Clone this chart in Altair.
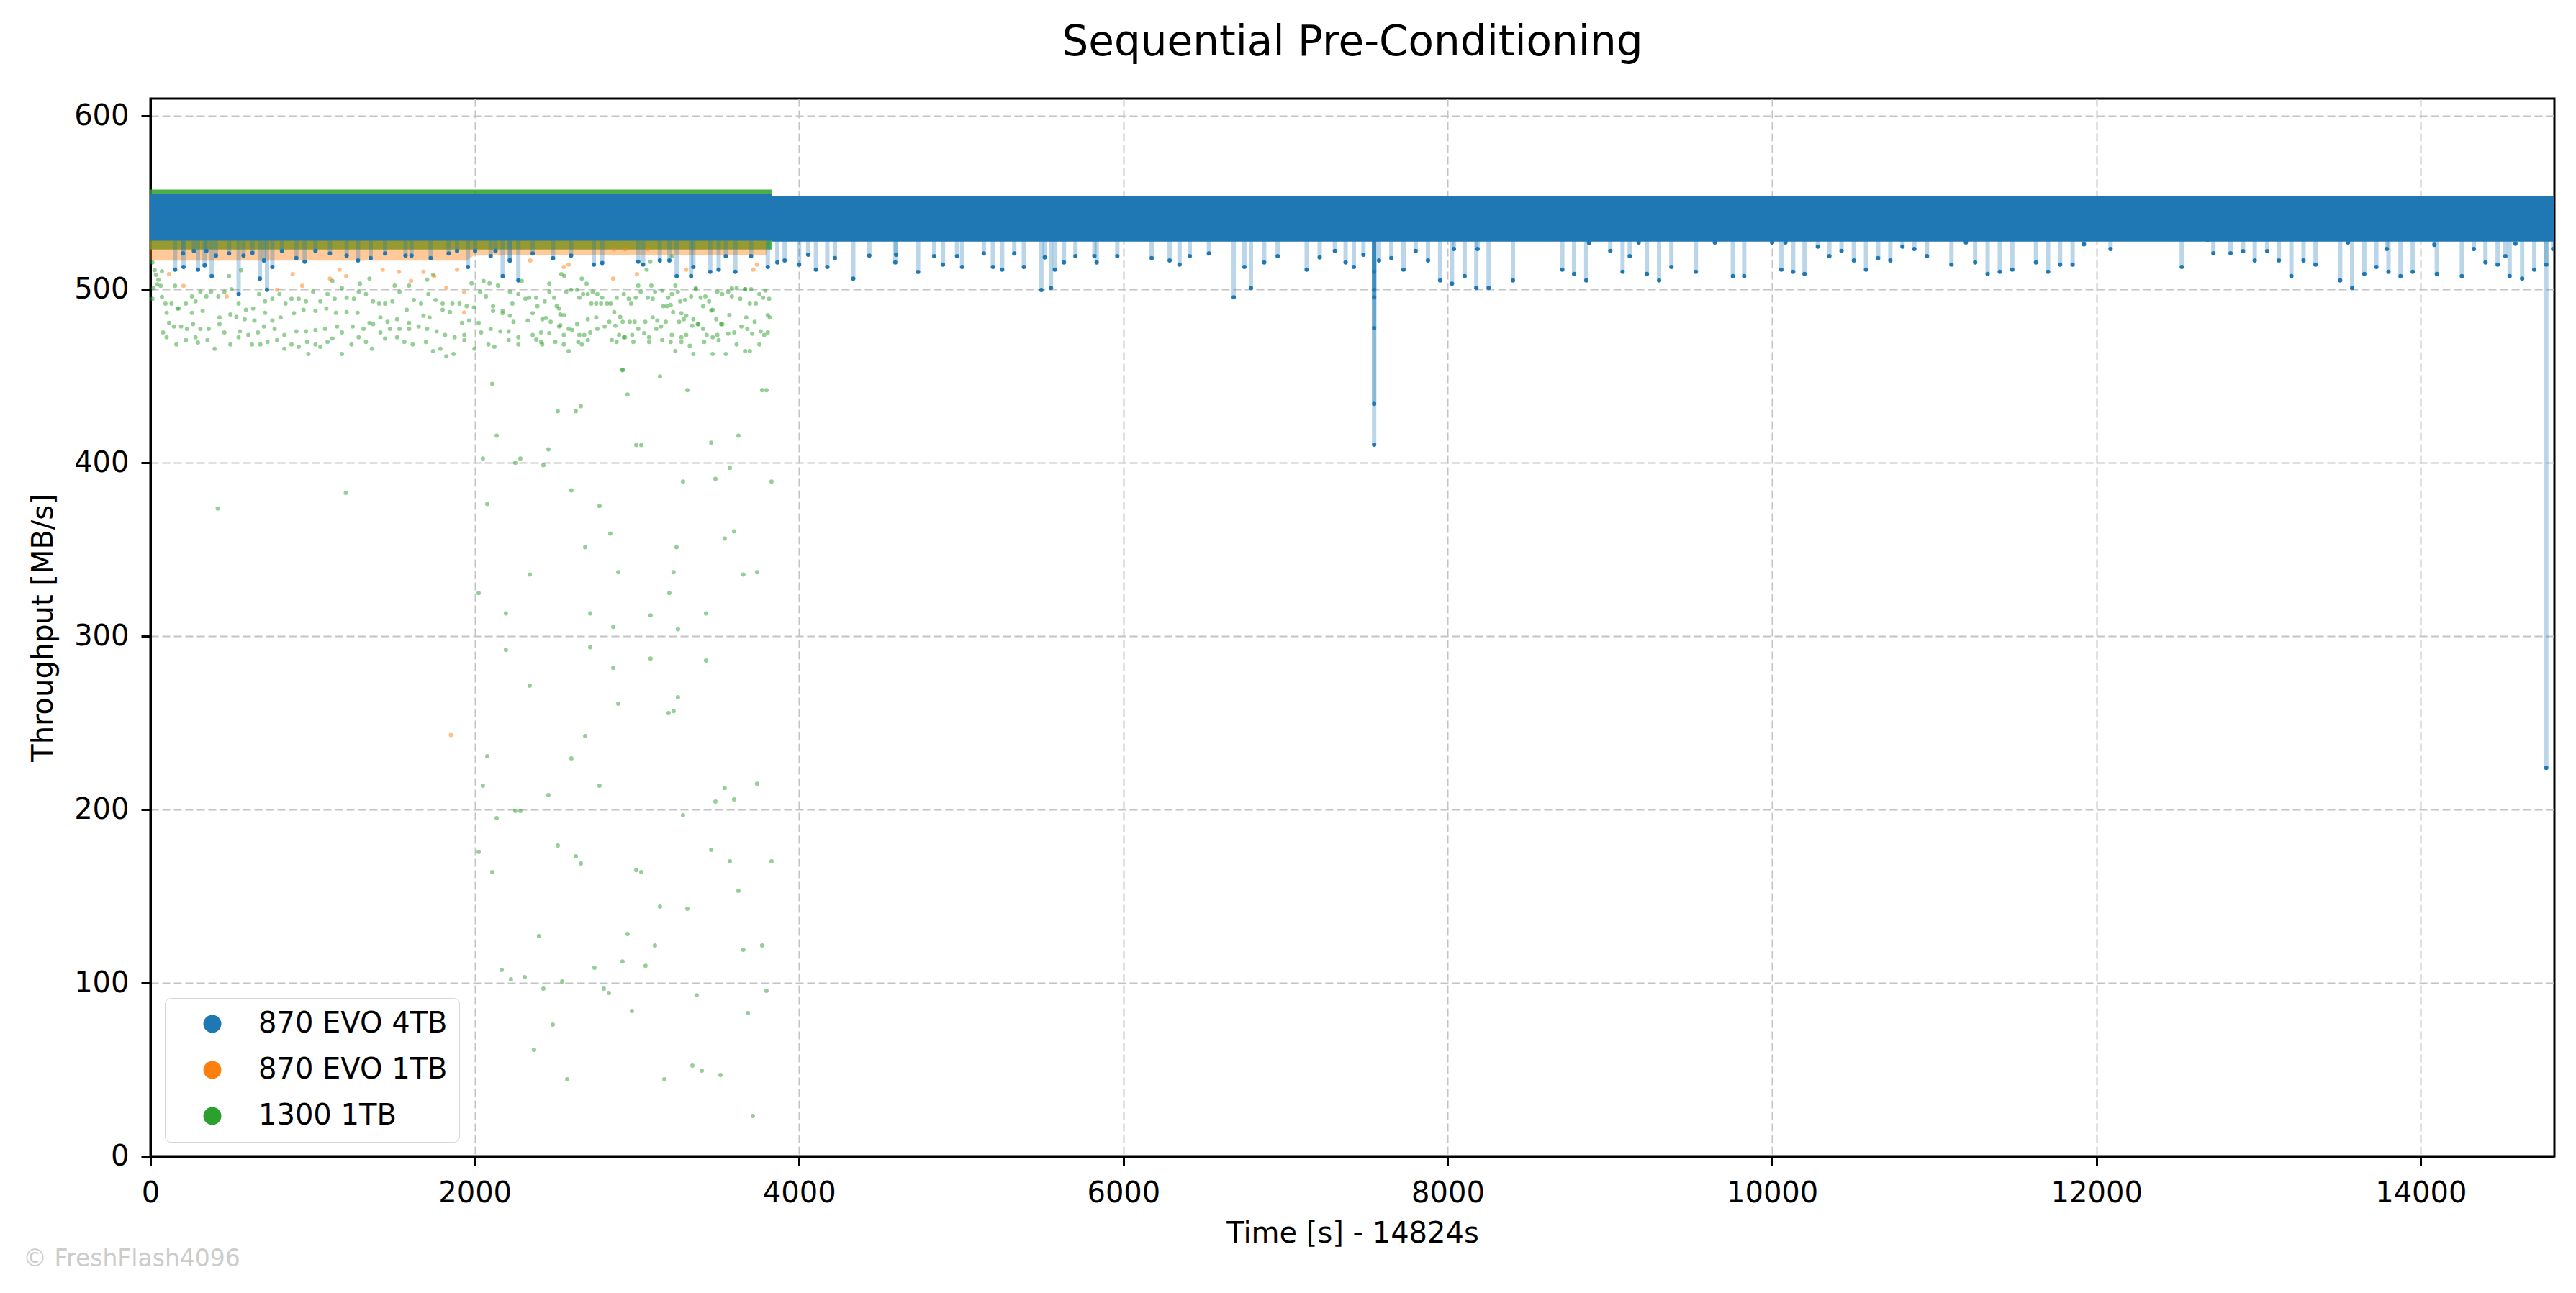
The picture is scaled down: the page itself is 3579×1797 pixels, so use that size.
import altair as alt
import pandas as pd

TITLE = "Sequential Pre-Conditioning"
X_TITLE = "Time [s] - 14824s"
Y_TITLE = "Throughput [MB/s]"
SERIES = ["870 EVO 4TB", "870 EVO 1TB", "1300 1TB"]
COLORS = ["#1f77b4", "#ff7f0e", "#2ca02c"]
X_TICKS = [0, 2000, 4000, 6000, 8000, 10000, 12000, 14000]
Y_TICKS = [0, 100, 200, 300, 400, 500, 600]
X_MAX = 14824
Y_MAX = 610
WATERMARK = "© FreshFlash4096"
FONT = "DejaVu Sans"

# dense bands of overlapping samples: (time, low, high)
blue_band = [(0, 528.0, 555.0), (3830, 528.0, 555.0), (3831, 527.5, 554.0), (14824, 527.5, 554.0)]
orange_band = [(0, 516.5, 545.0), (1950, 516.5, 545.0), (2000, 520.0, 545.0), (3800, 520.0, 545.0)]
green_band = [(0, 523.0, 557.5), (3830, 523.0, 557.5)]
BAND_BOTTOM = 528.0

# 1300 1TB : scattered samples below the band
green_low = [
    (2911, 453.4), (3142, 449.7), (2108, 445.5), (2942, 439.3), (3311, 441.8), (3772, 441.8), (3799, 441.8),
    (2512, 429.7), (2623, 429.7), (2654, 432.6), (2135, 415.6), (2996, 410.2), (3027, 410.2), (3458, 411.5),
    (3626, 415.6), (2454, 407.7), (2050, 402.4), (2281, 402.4), (2250, 399.9), (2423, 398.6), (3573, 397.0),
    (3284, 389.1), (3484, 390.7), (3830, 389.1), (2596, 384.1), (2077, 376.2), (2769, 375.0), (2836, 359.2),
    (2681, 351.3), (3244, 351.3), (3541, 356.3), (3599, 360.4), (2339, 335.5), (2885, 336.8), (3226, 336.8),
    (3656, 335.5), (3741, 336.8), (2024, 324.8), (3200, 324.8), (2192, 313.1), (2712, 313.1), (3084, 311.9),
    (3426, 313.1), (2854, 305.3), (3253, 304.0), (2192, 292.0), (2712, 293.6),
    (3084, 287.1), (3426, 285.9), (2854, 281.7), (2339, 271.4), (3253, 264.7), (2885, 261.0), (3195, 255.6),
    (3226, 256.8), (2681, 242.3), (2077, 230.7), (2596, 229.5), (2050, 213.7), (2769, 213.7), (2454, 208.3),
    (3741, 214.9), (3541, 212.4), (3484, 204.6), (3599, 205.8), (2250, 199.2), (2281, 199.2), (2135, 195.0),
    (3284, 196.7), (2024, 175.5), (2512, 179.3), (2623, 173.0), (2654, 168.9), (2108, 163.9), (2996, 165.1),
    (3027, 163.9), (3458, 176.8), (3573, 170.1), (3830, 170.1), (3626, 153.1), (3142, 144.0), (3311, 142.7),
    (2396, 127.0), (2942, 128.2), (3111, 121.6), (3656, 119.1), (3772, 121.6), (2166, 107.5), (2738, 108.7),
    (2911, 112.4), (3053, 109.9),
    (2223, 102.1), (2308, 103.3), (2539, 100.8), (2423, 96.7), (2796, 96.7), (2827, 94.2), (3368, 92.9),
    (3799, 95.4), (2969, 83.8), (3684, 82.6), (2481, 75.9), (2365, 61.4), (2570, 44.4), (3169, 44.4),
    (3342, 52.3), (3400, 49.4), (3515, 46.9), (3715, 23.2),
    (415, 373.6), (1205, 382.6),
]

# 1300 1TB : samples between 500 and 520
green_upper = [
    (12, 515.5), (26, 511.0), (34, 508.3), (49, 505.5), (41, 502.8), (63, 502.0), (19, 500.7), (71, 510.4),
    (152, 502.0), (485, 507.6), (559, 511.0), (1122, 504.8), (1292, 503.2), (1351, 506.2), (1506, 502.1),
    (1595, 502.1), (1706, 505.5), (1743, 508.3), (1980, 503.5), (2054, 504.8), (2091, 503.5), (2143, 502.1),
    (2217, 498.6), (2290, 504.8), (2460, 503.2), (2534, 508.7), (2552, 507.6), (2660, 506.2), (2690, 503.2),
    (3008, 502.1), (3089, 502.1), (3237, 502.1), (3363, 500.7), (3585, 500.7), (3667, 500.0), (3060, 511.3),
    (3082, 515.9), (3215, 519.1),
]

# 1300 1TB : cluster between 460 and 500
green_cluster = [
    (12, 494.5), (71, 495.6), (93, 491.7), (130, 491.7), (174, 488.9), (219, 491.7), (256, 495.9), (278, 493.1),
    (308, 498.6), (345, 495.9), (374, 498.6), (419, 495.9), (456, 498.6), (500, 500.0), (544, 491.7), (589, 488.2),
    (633, 488.9), (670, 497.2), (707, 493.1), (752, 494.5), (796, 497.2), (833, 491.7), (870, 494.5), (914, 494.5),
    (959, 493.1), (1003, 498.6), (1048, 493.1), (1092, 497.2), (1136, 494.5), (1181, 500.7), (1210, 495.2),
    (1255, 494.5), (1284, 498.6), (1329, 497.2), (1373, 493.1), (1410, 491.7), (1447, 491.7), (1492, 493.1),
    (1536, 498.6), (1580, 488.2), (1625, 493.8), (1669, 491.7), (1714, 497.2), (1758, 493.8), (1802, 491.7),
    (1862, 491.7), (1906, 491.7), (1950, 490.3), (1995, 489.6), (2032, 498.6), (2069, 495.9), (2113, 490.3),
    (2172, 487.6), (2232, 491.7), (2269, 497.2),
    (100, 486.4), (167, 488.9), (256, 486.4), (322, 487.6), (426, 483.7), (493, 485.5), (530, 484.1), (581, 482.7),
    (641, 482.0), (707, 486.4), (752, 482.0), (803, 483.7), (885, 486.2), (944, 488.2), (1018, 487.6),
    (1085, 488.9), (1144, 486.4), (1210, 486.9), (1277, 486.4), (1351, 480.6), (1418, 483.7), (1462, 481.3),
    (1521, 482.7), (1595, 480.6), (1684, 484.8), (1721, 483.7), (1802, 488.2), (1847, 486.9), (1921, 480.6),
    (1965, 482.0), (2024, 480.6), (2113, 487.6), (2172, 486.2), (2217, 484.8), (2239, 481.3),
    (78, 475.1), (115, 480.6), (145, 478.6), (189, 478.6), (226, 477.2), (263, 479.9), (308, 477.2), (359, 477.2),
    (426, 479.9), (456, 475.1), (552, 475.8), (604, 473.7), (663, 475.1), (700, 478.6), (766, 477.2), (826, 473.7),
    (900, 475.8), (959, 475.8), (1018, 476.5), (1077, 477.2), (1151, 478.6), (1181, 475.1), (1247, 478.6),
    (1314, 477.2), (1373, 479.9), (1418, 475.1), (1477, 477.2), (1536, 477.2), (1595, 477.2), (1654, 478.6),
    (1706, 477.2), (1765, 475.8), (1817, 473.7), (1876, 472.3), (1936, 473.7), (2039, 475.1), (2098, 477.2),
    (2158, 475.8), (2209, 475.8), (2269, 472.3),
    (100, 472.3), (160, 468.2), (219, 470.7), (278, 472.3), (293, 469.3), (352, 470.7), (396, 465.7), (493, 468.2),
    (544, 472.3), (626, 468.2), (678, 468.2), (722, 469.6), (781, 470.7), (826, 465.7), (870, 468.2), (914, 466.8),
    (966, 469.6), (974, 462.7), (1018, 468.2), (1048, 466.8), (1092, 469.6), (1122, 471.6), (1181, 462.7),
    (1240, 468.2), (1284, 472.3), (1329, 469.6), (1366, 465.7), (1447, 471.6), (1521, 472.3), (1566, 469.6),
    (1617, 468.2), (1699, 469.6), (1743, 464.3), (1788, 465.7), (1825, 461.3), (1869, 462.7), (1936, 470.7),
    (1998, 465.7), (2084, 468.2), (2121, 466.8), (2209, 470.7), (2269, 468.2),
    (2312, 494.5), (2335, 495.2), (2379, 495.2), (2386, 490.3), (2431, 493.1), (2460, 498.6), (2490, 495.2),
    (2505, 490.3), (2520, 488.9), (2564, 498.6), (2594, 499.7), (2631, 499.7), (2645, 495.2), (2668, 497.2),
    (2697, 497.2), (2727, 498.6), (2756, 497.2), (2786, 495.2), (2719, 491.7), (2749, 491.7), (2779, 491.7),
    (2816, 491.7), (2838, 491.7), (2875, 495.2), (2919, 497.2), (2949, 494.5), (2964, 491.7), (2993, 495.2),
    (3023, 498.6), (3067, 495.2), (3097, 494.5), (3112, 498.6), (3156, 499.3), (3193, 495.2), (3215, 497.2),
    (3163, 490.3), (3186, 490.3), (3208, 491.0), (3252, 498.6), (3267, 493.1), (3297, 493.8), (3334, 495.9),
    (3363, 500.0), (3393, 495.2), (3422, 495.9), (3408, 490.3), (3445, 493.1), (3467, 488.2), (3496, 498.6),
    (3526, 497.2), (3563, 498.6), (3585, 495.9), (3615, 500.7), (3637, 494.5), (3667, 500.0), (3704, 500.0),
    (3696, 491.7), (3733, 491.7), (3755, 497.2), (3778, 495.2), (3792, 499.3), (3815, 494.5),
    (2327, 482.0), (2357, 486.2), (2416, 482.7), (2438, 483.4), (2468, 481.3), (2527, 485.5), (2549, 485.1),
    (2527, 479.3), (2631, 479.9), (2697, 482.7), (2749, 483.7), (2830, 481.3), (2860, 486.9), (2897, 484.1),
    (2912, 481.3), (2956, 481.3), (2986, 481.3), (3052, 481.3), (3097, 483.7), (3126, 482.0), (3178, 481.3),
    (3223, 486.9), (3260, 481.3), (3274, 486.2), (3289, 482.7), (3304, 484.8), (3348, 482.7), (3375, 479.9),
    (3459, 487.8), (3489, 482.7), (3519, 479.9), (3570, 485.1), (3674, 483.7), (3726, 481.3), (3807, 485.1),
    (3819, 483.7),
    (2357, 473.7), (2409, 475.1), (2460, 474.7), (2520, 478.6), (2549, 473.7), (2579, 477.2), (2601, 476.5),
    (2645, 473.7), (2675, 473.7), (2712, 475.1), (2756, 477.2), (2801, 478.6), (2867, 479.0), (2890, 473.7),
    (2919, 472.3), (2971, 473.7), (3008, 477.2), (3045, 474.7), (3075, 472.3), (3119, 477.2), (3149, 478.6),
    (3215, 473.7), (3274, 472.3), (3304, 473.7), (3341, 479.0), (3378, 479.9), (3408, 477.2), (3430, 473.7),
    (3467, 472.3), (3496, 473.7), (3526, 479.9), (3563, 474.4), (3600, 475.1), (3644, 478.6), (3681, 477.2),
    (3711, 474.4), (3763, 475.8), (3785, 473.7), (3807, 475.1),
    (2379, 471.0), (2409, 469.6), (2416, 468.2), (2497, 469.6), (2549, 468.2), (2579, 464.3), (2638, 469.6),
    (2660, 468.2), (2697, 470.7), (2845, 470.7), (2875, 469.6), (2927, 472.3), (2978, 469.6), (3075, 469.6),
    (3156, 470.7), (3208, 469.6), (3237, 464.3), (3274, 469.6), (3326, 467.5), (3348, 462.7), (3415, 469.6),
    (3467, 462.7), (3504, 470.7), (3548, 462.7), (3615, 468.2), (3667, 464.3), (3696, 464.3), (3755, 468.2),
    (2912, 453.7),
]

# 870 EVO 1TB : samples below the band
orange_pts = [
    (1853, 243.0), (204, 502.0), (115, 508.7), (877, 508.7), (1107, 506.2), (1207, 507.6), (936, 502.0),
    (1533, 510.1), (1607, 504.8), (1684, 510.1), (1750, 507.6), (1825, 501.0), (1891, 511.3), (1935, 486.6),
    (1432, 511.3), (1166, 511.3), (781, 499.7), (470, 495.9), (1935, 498.3), (2342, 516.6), (2549, 512.9),
    (2579, 514.2), (2853, 506.2), (3000, 508.7), (3304, 511.3), (3718, 511.3), (3740, 514.2), (2927, 523.2),
    (2860, 523.2), (3067, 523.2),
]

# 870 EVO 4TB : dips below the band
blue_dips = [
    (152, 511.3), (204, 512.9), (293, 511.3), (334, 513.8), (378, 507.6), (544, 497.2), (675, 506.2),
    (719, 499.7), (752, 512.9), (951, 515.9), (1958, 512.9), (2172, 507.6), (2217, 516.6), (2269, 505.1),
    (3245, 507.6), (3334, 507.6), (3452, 510.1), (3504, 511.3), (3607, 510.1), (3807, 512.9), (3866, 515.5),
    (3911, 516.6),
    (4000, 514.2), (4104, 511.3), (4174, 512.9), (4334, 506.2), (4593, 515.5), (4734, 510.0), (4887, 514.2),
    (5005, 512.9), (5195, 512.9), (5252, 511.3), (5386, 512.9), (5494, 499.6), (5553, 500.8), (5577, 511.3),
    (5633, 515.5), (5835, 515.5), (6285, 516.6), (6346, 514.2), (6680, 495.4), (6746, 512.9), (6786, 500.8),
    (6868, 515.5), (7130, 511.3), (7370, 515.5), (7421, 512.9),
    (7546, 510.1), (7546, 499.7), (7546, 495.4), (7546, 477.6), (7546, 434.0), (7546, 410.4),
    (7576, 516.6), (7652, 518.0), (7727, 511.3), (7802, 522.1), (7878, 516.6), (7953, 505.1), (8026, 503.3),
    (8038, 523.3), (8104, 507.6), (8176, 500.8), (8184, 523.3), (8252, 500.8), (8402, 505.1), (8706, 511.3),
    (8779, 508.9), (8854, 505.1), (9002, 522.1), (9078, 510.1), (9122, 519.1), (9228, 508.9), (9303, 505.1),
    (9379, 512.9), (9530, 510.1), (9758, 507.6), (9828, 507.6), (10057, 511.3), (10130, 510.1), (10200, 508.9),
    (10353, 519.1), (10428, 522.1), (10504, 516.6), (10579, 511.3), (10654, 518.0), (10729, 516.6),
    (10804, 524.6), (10877, 523.3), (10955, 519.1), (11106, 514.2),
    (11252, 515.5), (11329, 508.9), (11404, 510.1), (11481, 511.3), (11627, 515.5), (11702, 510.1),
    (11776, 514.2), (11853, 514.2), (11923, 526.0), (12087, 523.3), (12526, 512.9), (12721, 520.8),
    (12827, 520.8), (12904, 522.0), (12976, 516.6), (13053, 522.0), (13125, 516.6), (13202, 507.6),
    (13277, 516.6), (13351, 514.2), (13503, 505.1), (13577, 500.8), (13652, 508.9), (13726, 512.9),
    (13791, 523.3), (13801, 510.1), (13875, 507.6), (13950, 510.1), (14099, 508.9), (14253, 507.6),
    (14327, 523.3), (14399, 515.5), (14474, 514.2), (14522, 519.1), (14548, 507.6), (14625, 506.2),
    (14700, 511.3), (14774, 224.0), (14774, 514.2), (14816, 523.3),
]

# 870 EVO 4TB : loose samples just under the band
blue_fringe = [
    (201, 520.7), (268, 522.1), (345, 522.1), (404, 519.4), (485, 520.7), (574, 519.4), (629, 521.0),
    (700, 516.6), (811, 522.1), (900, 518.0), (1018, 522.1), (1107, 520.7), (1210, 519.4), (1280, 516.6),
    (1358, 518.0), (1447, 520.7), (1573, 519.4), (1610, 519.4), (1728, 518.0), (1839, 520.7), (1891, 522.1),
    (2002, 522.1), (2098, 519.1), (2128, 522.1), (2216, 516.6), (2357, 520.7), (2483, 518.0), (2594, 519.4),
    (2734, 514.2), (2786, 515.2), (3008, 515.9), (3038, 514.2), (3141, 516.6), (3200, 516.6), (3348, 512.9),
    (3548, 519.1), (3704, 519.1), (4056, 520.0), (4221, 518.0), (4433, 519.4), (4598, 520.0), (4833, 519.1),
    (4974, 519.1), (5139, 520.7), (5327, 520.7), (5515, 518.4), (5704, 519.1), (5821, 519.1), (5962, 519.1),
    (6174, 518.0), (6409, 519.1), (6527, 520.7), (6951, 519.1), (7210, 518.4), (7304, 522.1), (7480, 520.0),
    (8871, 526.8), (9177, 527.0), (9647, 527.0), (10000, 527.0), (10282, 524.6), (10082, 527.0),
    (11195, 527.0), (12685, 528.6), (13551, 527.0), (14084, 525.7), (14584, 526.3),
]

# ---------- tables ----------
def band_df(rows):
    return pd.DataFrame(rows, columns=["t", "lo", "hi"])

rows = []
for t, v in green_cluster + green_upper + green_low:
    rows.append({"t": t, "v": v, "series": SERIES[2]})
for t, v in orange_pts:
    rows.append({"t": t, "v": v, "series": SERIES[1]})
for t, v in blue_fringe + blue_dips:
    rows.append({"t": t, "v": v, "series": SERIES[0]})
pts_df = pd.DataFrame(rows)

rule_df = pd.DataFrame([{"t": t, "v": v, "top": BAND_BOTTOM} for t, v in blue_dips + blue_fringe])

x_scale = alt.Scale(domain=[0, X_MAX], nice=False, zero=False)
y_scale = alt.Scale(domain=[0, Y_MAX], nice=False, zero=False)
x_axis = alt.Axis(values=X_TICKS, title=X_TITLE, format="d", grid=True, labelFlush=False)
y_axis = alt.Axis(values=Y_TICKS, title=Y_TITLE, format="d", grid=True, labelFlush=False)


def band_layer(rows, color, opacity):
    return alt.Chart(band_df(rows)).mark_area(color=color, opacity=opacity, clip=True, interpolate="linear").encode(
        x=alt.X("t:Q", scale=x_scale, axis=x_axis),
        y=alt.Y("lo:Q", scale=y_scale, axis=y_axis),
        y2="hi:Q",
    )


green_area = band_layer(green_band, COLORS[2], 0.85)
orange_area = band_layer(orange_band, COLORS[1], 0.42)
blue_area = band_layer(blue_band, COLORS[0], 1.0)

rules = alt.Chart(rule_df).mark_rule(color=COLORS[0], opacity=0.3, strokeWidth=6, clip=True).encode(
    x=alt.X("t:Q", scale=x_scale, axis=x_axis),
    y=alt.Y("v:Q", scale=y_scale, axis=y_axis),
    y2="top:Q",
)

points = alt.Chart(pts_df).mark_circle(size=36, strokeWidth=0, clip=True).encode(
    x=alt.X("t:Q", scale=x_scale, axis=x_axis),
    y=alt.Y("v:Q", scale=y_scale, axis=y_axis),
    color=alt.Color(
        "series:N",
        scale=alt.Scale(domain=SERIES, range=COLORS),
        legend=alt.Legend(
            title=None,
            orient="none",
            legendX=20,
            legendY=1250,
            labelFont=FONT,
            labelFontSize=40,
            labelColor="black",
            labelLimit=1000,
            labelOffset=44,
            symbolType="circle",
            symbolSize=625,
            symbolOpacity=1,
            symbolStrokeWidth=0,
            symbolOffset=30,
            padding=16,
            rowPadding=24,
            fillColor="white",
            strokeColor="#d6d6d6",
            cornerRadius=8,
        ),
    ),
    opacity=alt.condition(f"datum.series == '{SERIES[0]}'", alt.value(1.0), alt.value(0.5)),
)

mark_note = alt.Chart(pd.DataFrame({"label": [WATERMARK]})).mark_text(
    align="left", baseline="alphabetic", font=FONT, fontSize=33, color="#cccccc"
).encode(text="label:N", x=alt.value(-177), y=alt.value(1623))

chart = (
    alt.layer(green_area, orange_area, rules, blue_area, points, mark_note)
    .properties(
        width=3340,
        height=1470,
        autosize=alt.AutoSizeParams(type="none"),
        padding={"left": 201, "top": 129, "right": 22, "bottom": 180},
        title=alt.TitleParams(TITLE, font=FONT, fontSize=58, fontWeight="normal", color="black", offset=48, anchor="middle"),
        background="white",
    )
    .configure_view(stroke="black", strokeWidth=3)
    .configure_axis(
        labelFont=FONT,
        labelFontSize=40,
        labelColor="black",
        titleFont=FONT,
        titleFontSize=40,
        titleFontWeight="normal",
        titleColor="black",
        tickColor="black",
        tickWidth=3,
        tickSize=13,
        domain=True,
        domainColor="black",
        domainWidth=3,
        gridColor="#c4c4c4",
        gridDash=[11, 5],
        gridWidth=2,
    )
    .configure_axisX(labelPadding=18, titlePadding=16)
    .configure_axisY(labelPadding=17, titlePadding=22)
)

chart.save("out.html", embed_options={"renderer": "svg", "actions": False})
